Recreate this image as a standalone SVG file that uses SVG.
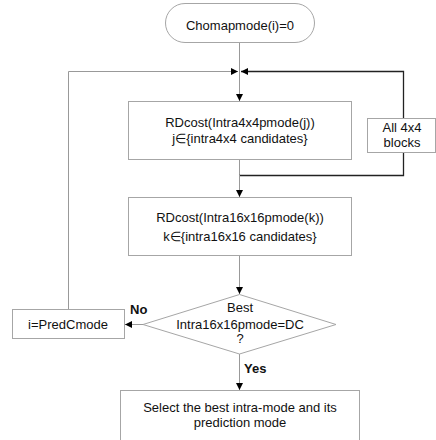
<svg xmlns="http://www.w3.org/2000/svg" width="436" height="440" viewBox="0 0 436 440">
<defs>
<marker id="ah" viewBox="0 0 10 10" refX="10" refY="5" markerWidth="7" markerHeight="7" orient="auto" markerUnits="userSpaceOnUse">
<path d="M0,0 L10,5 L0,10 z" fill="#000"/>
</marker>
</defs>
<style>
.box{fill:#fff;stroke:#a6a6a6;stroke-width:1}
.ln{fill:none;stroke:#999;stroke-width:1}
.dk{fill:none;stroke:#222;stroke-width:1.3}
text{font-family:"Liberation Sans",Arial,sans-serif;font-size:13px;fill:#111;text-anchor:middle}
.b{font-weight:bold;text-anchor:start}
</style>
<rect width="436" height="440" fill="#fff"/>
<g id="connectors">
<path class="ln" d="M239.5,43 V71"/>
<path class="ln" d="M239.5,71 V101" marker-end="url(#ah)"/>
<path class="ln" d="M68.5,309 V71.5 H238" marker-end="url(#ah)"/>
<path class="dk" d="M403.5,118 V71.5 H241" marker-end="url(#ah)"/>
<path class="ln" d="M239.5,160 V175"/>
<path class="dk" d="M403.5,152 V175.5 H239.5"/>
<path class="ln" d="M239.5,175 V197" marker-end="url(#ah)"/>
<path class="ln" d="M239.5,256 V294" marker-end="url(#ah)"/>
<path class="ln" d="M143,324.5 H125" marker-end="url(#ah)"/>
<path class="ln" d="M239.5,354 V390" marker-end="url(#ah)"/>
<text class="b" x="130" y="314">No</text>
<text class="b" x="244" y="373">Yes</text>
</g>
<g id="start">
<rect class="box" x="165.5" y="3.5" width="149" height="39" rx="19.5"/>
<text x="240" y="30">Chomapmode(i)=0</text>
</g>
<g id="rd4x4">
<rect class="box" x="128.5" y="101.5" width="223" height="58"/>
<text x="240" y="127">RDcost(Intra4x4pmode(j))</text>
<text x="240" y="143">j∈{intra4x4 candidates}</text>
</g>
<g id="all4x4">
<rect class="box" x="367.5" y="118.5" width="68" height="34"/>
<text x="402" y="132">All 4x4</text>
<text x="402" y="147">blocks</text>
</g>
<g id="rd16x16">
<rect class="box" x="128.5" y="197.5" width="223" height="58"/>
<text x="240" y="222">RDcost(Intra16x16pmode(k))</text>
<text x="240" y="241">k∈{intra16x16 candidates}</text>
</g>
<g id="decision">
<polygon class="box" points="239.5,294.5 336,324.5 239.5,354 143,324.5"/>
<text x="240" y="312">Best</text>
<text x="240" y="329">Intra16x16pmode=DC</text>
<text x="240" y="343">?</text>
</g>
<g id="predc">
<rect class="box" x="12.5" y="309.5" width="112" height="29"/>
<text x="68" y="329">i=PredCmode</text>
</g>
<g id="select">
<rect class="box" x="120.5" y="390.5" width="239" height="60"/>
<text x="240" y="412">Select the best intra-mode and its</text>
<text x="240" y="427">prediction mode</text>
</g>
</svg>
